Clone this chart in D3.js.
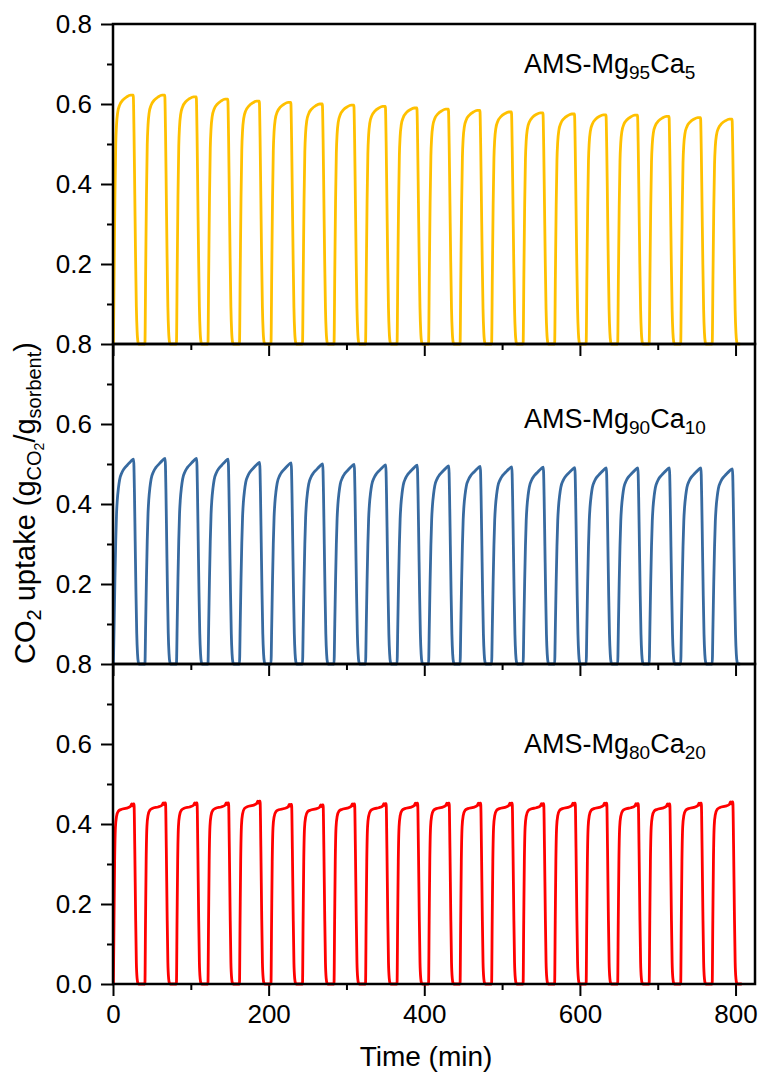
<!DOCTYPE html>
<html>
<head>
<meta charset="utf-8">
<script src="https://cdn.jsdelivr.net/npm/d3@7/dist/d3.min.js"></script>
<style>
  body { margin: 0; background: #fff; }
  svg { display: block; font-family: "Liberation Sans", Arial, Helvetica, sans-serif; }
</style>
</head>
<body>
<div id="chart"></div>
<script>
'use strict'

// rise start of each of the 20 cycles (min)
var cycleStarts = [0.5, 41, 81.5, 122, 162.5, 203, 243.5, 284, 324.5, 365,
                   405.5, 446, 486.5, 527, 567.5, 608, 648.5, 689, 729.5, 770];

// sample names: [main, sub, main, sub]
var sampleNames = [
    ["AMS-Mg", "95", "Ca", "5"],
    ["AMS-Mg", "90", "Ca", "10"],
    ["AMS-Mg", "80", "Ca", "20"]
];

// uptake at the end of each carbonation step (g/g)
var peaksMg95 = [0.622, 0.622, 0.618, 0.612, 0.607, 0.604, 0.600, 0.597, 0.594, 0.590,
                 0.587, 0.584, 0.580, 0.578, 0.575, 0.573, 0.572, 0.569, 0.566, 0.562];
var peaksMg90 = [0.512, 0.514, 0.514, 0.512, 0.504, 0.503, 0.500, 0.499, 0.498, 0.497,
                 0.495, 0.494, 0.493, 0.492, 0.491, 0.490, 0.490, 0.490, 0.490, 0.488];
var peaksMg80 = [0.450, 0.453, 0.453, 0.453, 0.457, 0.449, 0.448, 0.450, 0.451, 0.452,
                 0.452, 0.452, 0.452, 0.451, 0.452, 0.452, 0.451, 0.450, 0.452, 0.455];

// shape of one cycle: [min after rise start, fraction of that cycle's peak]
var profileMg95 = [[0, 0], [1, 0.3], [2, 0.6], [3, 0.8], [4, 0.88], [5.5, 0.93], [8, 0.96],
                   [12, 0.98], [17, 0.993], [22, 1.0], [25.5, 1.0], [26.5, 0.85], [27.5, 0.6],
                   [28.5, 0.35], [29.5, 0.15], [30.5, 0.05], [31.5, 0.01], [32.5, 0]];
var profileMg90 = [[0, 0], [1, 0.2], [2, 0.42], [3, 0.6], [4, 0.73], [5, 0.8], [6.5, 0.86],
                   [8, 0.9], [11, 0.935], [14, 0.955], [18, 0.972], [22, 0.988], [26, 1.0],
                   [27, 0.85], [28, 0.6], [29, 0.35], [30, 0.15], [31, 0.05], [32, 0.01], [33, 0]];
var profileMg80 = [[0, 0], [0.8, 0.35], [1.6, 0.68], [2.6, 0.87], [4, 0.93], [6.4, 0.96],
                   [10, 0.97], [17, 0.977], [21.5, 0.985], [22.5, 0.99], [23.5, 1.0], [24.5, 0.99],
                   [25.5, 1.0], [26.5, 1.0], [27.5, 0.75], [28.5, 0.4], [29.5, 0.12],
                   [30.5, 0.03], [31.5, 0.005], [32.5, 0]];

// last recorded time of each run (min)
var runEnds = [806, 806, 808];

var seriesColors = ["#FFC000", "#376AA0", "#FF0000"];

var xTicks = [0, 200, 400, 600, 800];
var xMinorTicks = [100, 300, 500, 700];
var yTicks = [0.2, 0.4, 0.6, 0.8];
var yMinorTicks = [0.1, 0.3, 0.5, 0.7];

var chart = (function(){
    var self = {},
    _svg,
    _x,
    layout = {
        width: 762, height: 1082,
        left: 113, right: 755,
        panelTops: [24, 344, 664], panelHeight: 320,
        labelBase: [73, 428, 753]
    },

    //This method builds the points of one run from its cycle peaks and profile
    buildRun = function(peaks, profile, end){
        var pts = [];
        cycleStarts.forEach(function(start, i){
            profile.forEach(function(p){
                pts.push([start + p[0], p[1] * peaks[i]]);
            });
        });
        pts.push([end, 0]);
        return pts;
    },

    //This method draws the frame, ticks and trace of one panel
    drawPanel = function(i, peaks, profile){
        var top = layout.panelTops[i],
            last = i === layout.panelTops.length - 1;

        var y = d3.scaleLinear().domain([0, 0.8])
                  .range([top + layout.panelHeight, top]);

        var g = _svg.append("g").attr("class", "panel panel-" + i);

        // y axis, major and minor
        g.append("g")
            .attr("class", "axis y-major")
            .attr("transform", "translate(" + layout.left + ",0)")
            .call(d3.axisLeft(y)
                .tickValues(last ? [0].concat(yTicks) : yTicks)
                .tickSize(12).tickPadding(9)
                .tickFormat(d3.format(".1f")));

        g.append("g")
            .attr("class", "axis y-minor")
            .attr("transform", "translate(" + layout.left + ",0)")
            .call(d3.axisLeft(y).tickValues(yMinorTicks).tickSize(6).tickFormat(""));

        // x axis of the panel, labels only on the bottom one
        var xb = top + layout.panelHeight;
        g.append("g")
            .attr("class", "axis x-major")
            .attr("transform", "translate(0," + xb + ")")
            .call(d3.axisBottom(_x).tickValues(xTicks).tickSize(12).tickPadding(9)
                .tickFormat(last ? d3.format("d") : ""));

        g.append("g")
            .attr("class", "axis x-minor")
            .attr("transform", "translate(0," + xb + ")")
            .call(d3.axisBottom(_x).tickValues(xMinorTicks).tickSize(6).tickFormat(""));

        g.selectAll(".axis .domain").remove();
        g.selectAll(".axis line").attr("stroke", "#000").attr("stroke-width", 2);
        g.selectAll(".axis text").attr("fill", "#000").style("font-size", "26px");

        // trace
        var line = d3.line()
            .x(function(d){ return _x(d[0]); })
            .y(function(d){ return y(d[1]); })
            .curve(d3.curveMonotoneX);

        g.append("path")
            .datum(buildRun(peaks, profile, runEnds[i]))
            .attr("fill", "none")
            .attr("stroke", seriesColors[i])
            .attr("stroke-width", 2.8)
            .attr("stroke-linejoin", "round")
            .attr("d", line);

        // frame
        g.append("rect")
            .attr("x", layout.left)
            .attr("y", top)
            .attr("width", layout.right - layout.left)
            .attr("height", layout.panelHeight)
            .attr("fill", "none")
            .attr("stroke", "#000")
            .attr("stroke-width", 2.5);

        // sample name
        var name = sampleNames[i];
        var t = g.append("text")
            .attr("x", 524)
            .attr("y", layout.labelBase[i])
            .style("font-size", "27px")
            .attr("fill", "#000");
        t.append("tspan").text(name[0]);
        t.append("tspan").attr("dy", 6).style("font-size", "19px").text(name[1]);
        t.append("tspan").attr("dy", -6).text(name[2]);
        t.append("tspan").attr("dy", 6).style("font-size", "19px").text(name[3]);
    },

    //This method adds the two axis titles
    addTitles = function(){
        _svg.append("text")
            .attr("x", 426)
            .attr("y", 1066)
            .attr("text-anchor", "middle")
            .style("font-size", "28px")
            .text("Time (min)");

        var yl = _svg.append("text")
            .attr("transform", "translate(35,503) rotate(-90)")
            .attr("text-anchor", "middle")
            .style("font-size", "29px");
        yl.append("tspan").text("CO");
        yl.append("tspan").attr("dy", 6).style("font-size", "20px").text("2");
        yl.append("tspan").attr("dy", -6).text(" uptake (g");
        yl.append("tspan").attr("dy", 6).style("font-size", "20px").text("CO");
        yl.append("tspan").attr("dy", 3).style("font-size", "14px").text("2");
        yl.append("tspan").attr("dy", -9).text("/g");
        yl.append("tspan").attr("dy", 6).style("font-size", "20px").text("sorbent");
        yl.append("tspan").attr("dy", -6).text(")");
    };

    self.init = function(placeHolder){
        _svg = d3.select(placeHolder)
            .append("svg")
            .attr("width", layout.width)
            .attr("height", layout.height);

        _x = d3.scaleLinear().domain([0, 825]).range([layout.left, layout.right]);

        drawPanel(0, peaksMg95, profileMg95);
        drawPanel(1, peaksMg90, profileMg90);
        drawPanel(2, peaksMg80, profileMg80);
        addTitles();
    };

    return self;
}());

chart.init("#chart");
</script>
</body>
</html>
